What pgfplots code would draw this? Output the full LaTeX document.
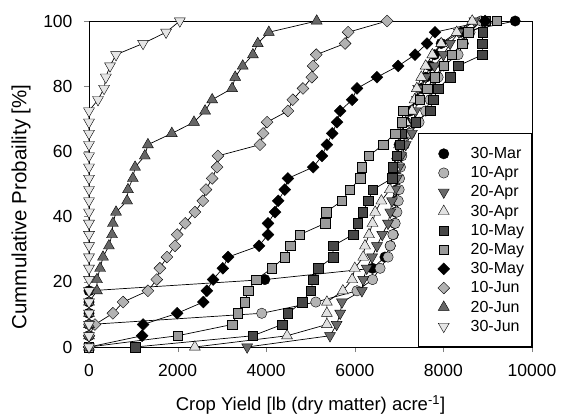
\documentclass[border=0pt]{standalone}
\usepackage{pgfplots}
\pgfplotsset{compat=1.18}
\usepackage{fontspec}
\setmainfont{Liberation Sans}
\definecolor{cA}{HTML}{000000}
\definecolor{cB}{HTML}{B4B4B4}
\definecolor{cC}{HTML}{6A6A6A}
\definecolor{cD}{HTML}{E2E2E2}
\definecolor{cE}{HTML}{474747}
\definecolor{cF}{HTML}{9A9A9A}
\definecolor{cG}{HTML}{000000}
\definecolor{cH}{HTML}{B2B2B2}
\definecolor{cI}{HTML}{666666}
\definecolor{cJ}{HTML}{E6E6E6}
\newcommand{\legtxt}[1]{\makebox[41pt][l]{#1}}
\begin{document}
\begin{tikzpicture}
\useasboundingbox (-89pt,-70pt) rectangle (472pt,347pt);
\begin{axis}[
  width=443pt, height=326pt, scale only axis,
  at={(0,0)}, anchor=south west,
  xmin=0, xmax=10000, ymin=0, ymax=100,
  xtick={0,2000,4000,6000,8000,10000},
  ytick={0,20,40,60,80,100},
  tick pos=left, tick align=outside, major tick length=5pt,
  scaled x ticks=false,
  /pgf/number format/1000 sep={},
  /pgf/number format/assume math mode=true,
  tick label style={font=\fontsize{17.5}{20}\selectfont},
  xticklabel style={yshift=-9pt},
  yticklabel style={xshift=-8pt},
  xlabel={Crop Yield [lb (dry matter) acre\textsuperscript{-1}]},
  ylabel={Cummulative Probaility [\%]},
  xlabel style={font=\fontsize{18.5}{21}\selectfont, at={(axis description cs:0.5,-0.178)}, anchor=center},
  ylabel style={font=\fontsize{20.5}{23}\selectfont, at={(axis description cs:-0.1535,0.43)}, anchor=center},
  clip=false,
  axis line style={line width=0.6pt},
  every axis plot/.append style={line width=0.7pt, draw=black},
  legend image code/.code={\draw[#1, only marks] plot coordinates {(18pt,0pt)};},
  legend style={at={(1,0)}, anchor=south east, draw=black, line width=0.6pt,
     font=\fontsize{16}{19}\selectfont, row sep=2.5pt, inner xsep=20pt, inner ysep=12pt,
     column sep=21pt,
     legend cell align=left, nodes={inner xsep=0pt}},
]
\addplot[mark=*, mark size=5.2pt, mark options={fill=cA, draw=black, line width=0.4pt}] coordinates {
(0,0)(0,3.45)(0,6.9)(0,10.34)(0,13.79)(0,17.24)(3970,20.69)(6400,24.14)(6680,27.59)(6800,31.03)(6870,34.48)(6900,37.93)(6920,41.38)(6930,44.83)(6950,48.28)(6960,51.72)(6970,55.17)(6980,58.62)(7000,62.07)(7050,65.52)(7150,68.97)(7250,72.41)(7400,75.86)(7500,79.31)(7600,82.76)(7700,86.21)(7800,89.66)(7950,93.10)(8400,96.55)(9620,100)};
\addlegendentry{\legtxt{30-Mar}}
\addplot[mark=*, mark size=5.2pt, mark options={fill=cB, draw=black, line width=0.4pt}] coordinates {
(0,0)(0,3.45)(0,6.9)(3900,10.34)(5120,13.79)(6050,17.24)(6400,20.69)(6570,24.14)(6750,27.59)(6800,31.03)(6860,34.48)(6910,37.93)(6950,41.38)(6980,44.83)(7000,48.28)(7010,51.72)(7030,55.17)(7060,58.62)(7120,62.07)(7250,65.52)(7450,68.97)(7600,72.41)(7700,75.86)(7780,79.31)(7880,82.76)(8000,86.21)(8330,89.66)(8450,93.10)(8600,96.55)(8850,100)};
\addlegendentry{\legtxt{10-Apr}}
\addplot[mark=triangle*, mark size=6.3pt, mark options={rotate=180, fill=cC, draw=black, line width=0.4pt}] coordinates {
(3570,0)(5440,3.45)(5590,6.9)(5670,10.34)(5710,13.79)(6160,17.24)(6190,20.69)(6270,24.14)(6390,27.59)(6500,31.03)(6620,34.48)(6750,37.93)(6800,41.38)(6840,44.83)(6910,48.28)(6950,51.72)(7000,55.17)(7050,58.62)(7150,62.07)(7290,65.52)(7330,68.97)(7370,72.41)(7400,75.86)(7430,79.31)(7600,82.76)(7800,86.21)(8000,89.66)(8150,93.10)(8350,96.55)(8700,100)};
\addlegendentry{\legtxt{20-Apr}}
\addplot[mark=triangle*, mark size=6.3pt, mark options={fill=cD, draw=black, line width=0.4pt}] coordinates {
(2390,0)(4470,3.45)(5370,6.9)(5370,10.34)(5370,13.79)(5730,17.24)(5940,20.69)(6000,24.14)(6190,27.59)(6230,31.03)(6320,34.48)(6400,37.93)(6460,41.38)(6600,44.83)(6790,48.28)(6850,51.72)(6900,55.17)(6950,58.62)(7000,62.07)(7050,65.52)(7150,68.97)(7290,72.41)(7350,75.86)(7400,79.31)(7500,82.76)(7600,86.21)(7750,89.66)(7950,93.10)(8300,96.55)(8650,100)};
\addlegendentry{\legtxt{30-Apr}}
\addplot[mark=square*, mark size=4.7pt, mark options={fill=cE, draw=black, line width=0.4pt}] coordinates {
(1040,0)(3700,3.45)(4360,6.9)(4490,10.34)(4810,13.79)(5010,17.24)(5060,20.69)(5170,24.14)(5510,27.59)(5510,31.03)(5960,34.48)(6070,37.93)(6180,41.38)(6300,44.83)(6410,48.28)(6840,51.72)(6860,55.17)(6950,58.62)(7020,62.07)(7060,65.52)(7380,68.97)(7700,72.41)(7770,75.86)(7880,79.31)(8150,82.76)(8330,86.21)(8880,89.66)(8880,93.10)(8890,96.55)(8950,100)};
\addlegendentry{\legtxt{10-May}}
\addplot[mark=square*, mark size=4.7pt, mark options={fill=cF, draw=black, line width=0.4pt}] coordinates {
(0,0)(2000,3.45)(3230,6.9)(3360,10.34)(3520,13.79)(3590,17.24)(3770,20.69)(4130,24.14)(4420,27.59)(4540,31.03)(4760,34.48)(5330,37.93)(5350,41.38)(5710,44.83)(5890,48.28)(6120,51.72)(6160,55.17)(6320,58.62)(6640,62.07)(6910,65.52)(7060,68.97)(7090,72.41)(7470,75.86)(7630,79.31)(7800,82.76)(8000,86.21)(8190,89.66)(8420,93.10)(8560,96.55)(9200,100)};
\addlegendentry{\legtxt{20-May}}
\addplot[mark=square*, mark size=4.2pt, mark options={rotate=45, fill=cG, draw=black, line width=0.4pt}] coordinates {
(0,0)(1200,3.45)(1220,6.9)(1990,10.34)(2580,13.79)(2660,17.24)(2800,20.69)(3020,24.14)(3140,27.59)(3840,31.03)(4040,34.48)(4040,37.93)(4200,41.38)(4270,44.83)(4420,48.28)(4490,51.72)(5060,55.17)(5260,58.62)(5370,62.07)(5490,65.52)(5600,68.97)(5670,72.41)(5940,75.86)(6050,79.31)(6500,82.76)(6980,86.21)(7360,89.66)(7630,93.10)(7810,96.55)(8940,100)};
\addlegendentry{\legtxt{30-May}}
\addplot[mark=square*, mark size=4.2pt, mark options={rotate=45, fill=cH, draw=black, line width=0.4pt}] coordinates {
(0,0)(0,3.45)(135,6.9)(540,10.34)(770,13.79)(1330,17.24)(1530,20.69)(1600,24.14)(1760,27.59)(1940,31.03)(1990,34.48)(2170,37.93)(2390,41.38)(2570,44.83)(2640,48.28)(2780,51.72)(2890,55.17)(2910,58.62)(3860,62.07)(3930,65.52)(4020,68.97)(4490,72.41)(4600,75.86)(4830,79.31)(5030,82.76)(5060,86.21)(5130,89.66)(5780,93.10)(5850,96.55)(6730,100)};
\addlegendentry{\legtxt{10-Jun}}
\addplot[mark=triangle*, mark size=6.3pt, mark options={fill=cI, draw=black, line width=0.4pt}] coordinates {
(0,0)(0,3.45)(0,6.9)(0,10.34)(0,13.79)(180,17.24)(180,20.69)(250,24.14)(316,27.59)(450,31.03)(520,34.48)(540,37.93)(610,41.38)(860,44.83)(880,48.28)(990,51.72)(1040,55.17)(1260,58.62)(1330,62.07)(1870,65.52)(2370,68.97)(2620,72.41)(2780,75.86)(3230,79.31)(3300,82.76)(3470,86.21)(3700,89.66)(3810,93.10)(4060,96.55)(5140,100)};
\addlegendentry{\legtxt{20-Jun}}
\addplot[mark=triangle*, mark size=6.3pt, mark options={rotate=180, fill=cJ, draw=black, line width=0.4pt}] coordinates {
(0,0)(0,3.45)(0,6.9)(0,10.34)(0,13.79)(0,17.24)(0,20.69)(0,24.14)(0,27.59)(0,31.03)(0,34.48)(0,37.93)(0,41.38)(0,44.83)(0,48.28)(0,51.72)(0,55.17)(0,58.62)(0,62.07)(0,65.52)(0,68.97)(0,72.41)(203,75.86)(340,79.31)(380,82.76)(474,86.21)(610,89.66)(1220,93.10)(1740,96.55)(2050,100)};
\addlegendentry{\legtxt{30-Jun}}
\end{axis}
\end{tikzpicture}
\end{document}
